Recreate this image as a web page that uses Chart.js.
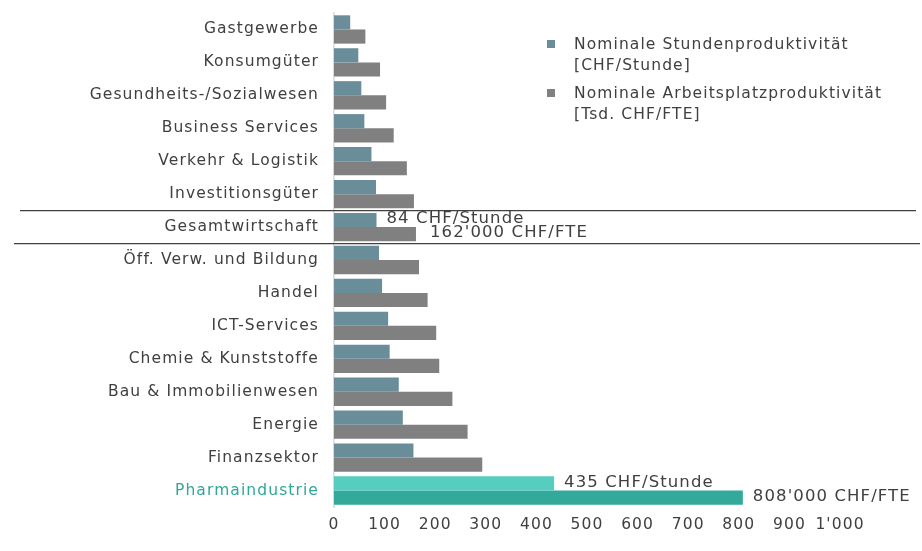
<!DOCTYPE html>
<html>
<head>
<meta charset="utf-8">
<script src="https://cdn.jsdelivr.net/npm/chart.js@4"></script>
<style>
  html, body { margin: 0; padding: 0; background: #fff; }
  #wrap { width: 922px; height: 551px; position: relative; }
</style>
</head>
<body>
<div id="wrap"><canvas id="bars"></canvas></div>
<script>
const categories = ['Gastgewerbe', 'Konsumgüter', 'Gesundheits-/Sozialwesen', 'Business Services', 'Verkehr & Logistik',
  'Investitionsgüter', 'Gesamtwirtschaft', 'Öff. Verw. und Bildung', 'Handel', 'ICT-Services',
  'Chemie & Kunststoffe', 'Bau & Immobilienwesen', 'Energie', 'Finanzsektor', 'Pharmaindustrie'];
const stundenValues = [32, 48, 54, 60, 74, 83, 84, 89, 95, 107, 110, 128, 136, 157, 435];
const arbeitsplatzValues = [62, 91, 103, 118, 144, 158, 162, 168, 185, 202, 208, 234, 264, 293, 808];
const xTicks = [0, 100, 200, 300, 400, 500, 600, 700, 800, 900, 1000];
const seriesLabels = [['Nominale Stundenproduktivität', '[CHF/Stunde]'], ['Nominale Arbeitsplatzproduktivität', '[Tsd. CHF/FTE]']];
// text next to the bars: [dataset, category index, text]
const barNotes = [[0, 6, '84 CHF/Stunde'], [1, 6, "162'000 CHF/FTE"], [0, 14, '435 CHF/Stunde'], [1, 14, "808'000 CHF/FTE"]];

const pharma = categories.indexOf('Pharmaindustrie');
const gesamt = categories.indexOf('Gesamtwirtschaft');
const textColor = '#404040';
const font = 'DejaVu Sans';
const spacing = '1.1px'; // the original text is set rather wide

function colorsFor(base, highlight) {
  return categories.map((c, i) => i === pharma ? highlight : base);
}

const extras = {
  id: 'extras',
  beforeUpdate(chart) { chart.ctx.letterSpacing = spacing; },
  beforeDraw(chart) { chart.ctx.letterSpacing = spacing; },
  afterDraw(chart) {
    const ctx = chart.ctx;
    const y = chart.scales.y;
    ctx.save();
    // separator lines around Gesamtwirtschaft
    ctx.strokeStyle = '#404040';
    ctx.lineWidth = 1.3;
    const above = (y.getPixelForValue(gesamt - 1) + y.getPixelForValue(gesamt)) / 2;
    const below = (y.getPixelForValue(gesamt) + y.getPixelForValue(gesamt + 1)) / 2;
    ctx.beginPath();
    ctx.moveTo(20, above); ctx.lineTo(916, above);
    ctx.moveTo(14, below); ctx.lineTo(920, below);
    ctx.stroke();

    // value notes
    ctx.font = '16.5px "' + font + '"';
    ctx.fillStyle = textColor;
    ctx.textBaseline = 'middle';
    ctx.textAlign = 'left';
    barNotes.forEach(([ds, idx, txt]) => {
      const bar = chart.getDatasetMeta(ds).data[idx];
      const off = (ds === 1 && idx === gesamt) ? 14 : 10;
      ctx.fillText(txt, bar.x + off, bar.y - 1);
    });

    // legend
    ctx.font = '15.5px "' + font + '"';
    const lx = 547, tops = [44, 93];
    chart.data.datasets.forEach((d, i) => {
      ctx.fillStyle = d.backgroundColor[0];
      ctx.fillRect(lx, tops[i] - 4, 8, 8);
      ctx.fillStyle = textColor;
      seriesLabels[i].forEach((line, j) => ctx.fillText(line, lx + 27, tops[i] + 1 + j * 21));
    });
    ctx.restore();
  }
};

new Chart(document.getElementById('bars'), {
  type: 'bar',
  data: {
    labels: categories,
    datasets: [{
      label: seriesLabels[0].join(' '),
      data: stundenValues,
      backgroundColor: colorsFor('#6A8D9A', '#55CDBF'),
      barPercentage: 1,
      categoryPercentage: 0.86
    }, {
      label: seriesLabels[1].join(' '),
      data: arbeitsplatzValues,
      backgroundColor: colorsFor('#808080', '#32A99B'),
      barPercentage: 1,
      categoryPercentage: 0.86
    }]
  },
  options: {
    indexAxis: 'y',
    responsive: true,
    maintainAspectRatio: false,
    animation: false,
    layout: { padding: { top: 13, right: 82, bottom: 0, left: 0 } },
    plugins: { legend: { display: false }, tooltip: { enabled: false } },
    scales: {
      x: {
        min: 0, max: 1000,
        afterBuildTicks: s => { s.ticks = xTicks.map(v => ({ value: v })); },
        afterFit: s => { s.height = 44; },
        grid: { display: false, drawTicks: false },
        border: { display: false },
        ticks: {
          color: textColor, padding: 9,
          maxRotation: 0, minRotation: 0, autoSkip: false,
          font: { family: font, size: 15.5 },
          callback: v => v >= 1000 ? "1'000" : v
        }
      },
      y: {
        afterFit: s => { s.width = 334; s.paddingTop = 0; s.paddingBottom = 0; },
        grid: { display: false, drawTicks: false },
        border: { color: '#D9D9D9', width: 1.5 },
        ticks: {
          padding: 15,
          font: { family: font, size: 15.5 },
          color: c => c.index === pharma ? '#2EA898' : textColor
        }
      }
    }
  },
  plugins: [extras]
});
</script>
</body>
</html>
